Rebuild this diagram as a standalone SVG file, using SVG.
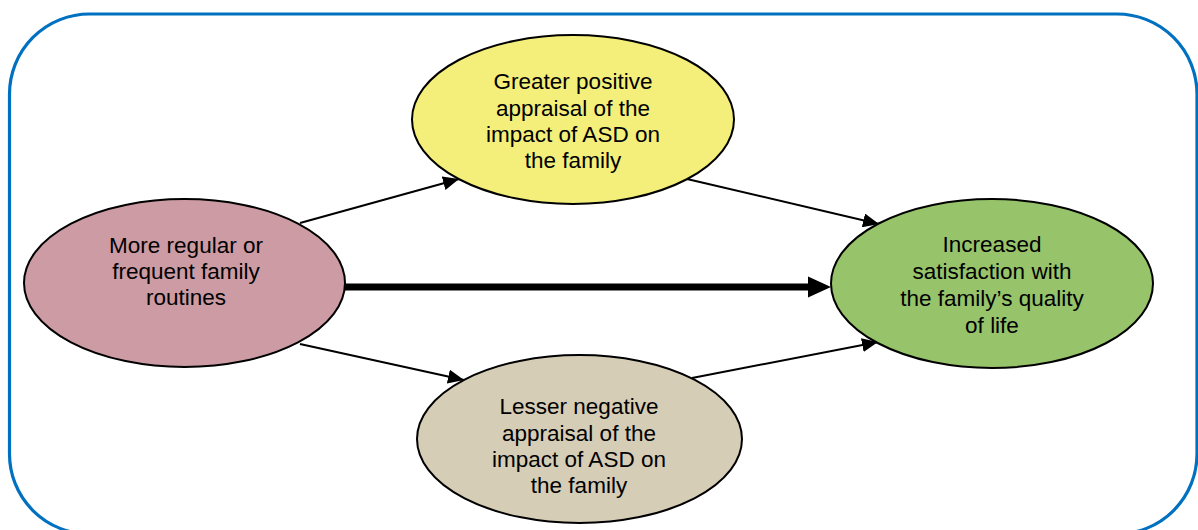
<svg xmlns="http://www.w3.org/2000/svg" width="1198" height="530" viewBox="0 0 1198 530">
  <style>
    .frame { fill: none; stroke: #0070C0; stroke-width: 3.2; }
    .node { stroke: #000; stroke-width: 2; }
    .label { font-family: "Liberation Sans", Arial, sans-serif; font-size: 22.5px; fill: #000; text-anchor: middle; }
    .thin { stroke: #000; stroke-width: 2; fill: none; marker-end: url(#headThin); }
    .thick { stroke: #000; stroke-width: 7; fill: none; }
  </style>
  <defs>
    <marker id="headThin" markerUnits="userSpaceOnUse" markerWidth="18" markerHeight="14" refX="16" refY="7" orient="auto">
      <path d="M0,0 L16,7 L0,14 Z" fill="#000"/>
    </marker>
  </defs>

  <rect width="1198" height="530" fill="#fff"/>
  <!-- outer rounded frame -->
  <rect class="frame" x="9.5" y="14" width="1187.5" height="520" rx="80" ry="80"/>

  <!-- connectors -->
  <g id="connectors">
    <line class="thin" x1="300" y1="223" x2="459" y2="179"/>
    <line class="thin" x1="687" y1="179" x2="879" y2="224"/>
    <line class="thin" x1="300" y1="344" x2="464" y2="380"/>
    <line class="thin" x1="692" y1="378" x2="878" y2="342"/>
    <line class="thick" x1="345" y1="287" x2="810" y2="287"/>
    <path d="M808,276.5 L831,287 L808,297.5 Z" fill="#000"/>
  </g>

  <g id="node-routines">
    <ellipse class="node" cx="184.5" cy="283" rx="160.5" ry="84" fill="#CD9BA4"/>
    <text class="label" x="186" y="253">More regular or</text>
    <text class="label" x="186" y="279">frequent family</text>
    <text class="label" x="186" y="305">routines</text>
  </g>

  <g id="node-positive">
    <ellipse class="node" cx="573" cy="119.5" rx="161" ry="84.5" fill="#F3EF7A"/>
    <text class="label" x="573" y="89">Greater positive</text>
    <text class="label" x="573" y="116">appraisal of the</text>
    <text class="label" x="573" y="142">impact of ASD on</text>
    <text class="label" x="573" y="168">the family</text>
  </g>

  <g id="node-negative">
    <ellipse class="node" cx="579.5" cy="439" rx="162.5" ry="84" fill="#D6CDB6"/>
    <text class="label" x="579" y="414">Lesser negative</text>
    <text class="label" x="579" y="441">appraisal of the</text>
    <text class="label" x="579" y="467">impact of ASD on</text>
    <text class="label" x="579" y="493">the family</text>
  </g>

  <g id="node-quality">
    <ellipse class="node" cx="992" cy="283.5" rx="161" ry="84.5" fill="#97C46A"/>
    <text class="label" x="992" y="252">Increased</text>
    <text class="label" x="992" y="279">satisfaction with</text>
    <text class="label" x="992" y="306">the family’s quality</text>
    <text class="label" x="992" y="333">of life</text>
  </g>
</svg>
